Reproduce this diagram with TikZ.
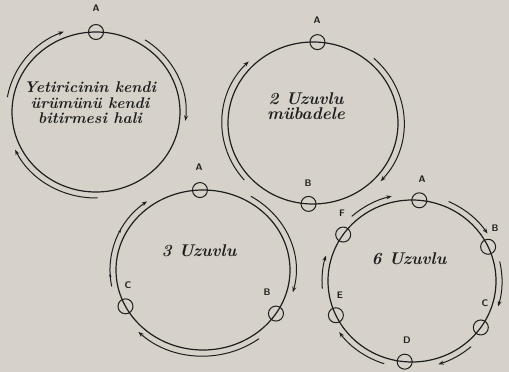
\documentclass[tikz,border=0pt]{standalone}
\usetikzlibrary{arrows.meta,calc,decorations.markings}
\definecolor{paper}{RGB}{214,210,202}
\definecolor{ink}{RGB}{30,30,30}
\newcommand\flowarc[5]{\draw[flow] ($(#1)+(#2:#4 and #5)$) arc[start angle=#2,end angle=#3,x radius=#4,y radius=#5];}
\begin{document}
\begin{tikzpicture}[x=1pt,y=1pt,
  ring/.style={draw=ink,line width=1.2pt},
  flow/.style={draw=ink,line width=1pt,-{Stealth[length=5.5pt,width=4pt]}},
  stn/.style={circle,draw=ink,line width=1pt,minimum size=15pt,inner sep=0pt},
  lbl/.style={font=\sffamily\bfseries\fontsize{9.5}{10}\selectfont,text=ink,inner sep=0pt},
  hand/.style={font=\bfseries\itshape\fontsize{17}{15.5}\selectfont,text=ink,align=center,inner sep=0pt},
  midarrows/.style={postaction={decorate},decoration={markings,
    mark=at position 0.13 with {\arrow{Stealth[length=3pt,width=2.5pt]}},
    mark=at position 0.6 with {\arrow{Stealth[length=3pt,width=2.5pt]}}}}]
\fill[paper] (0,0) rectangle (509,-372);
\useasboundingbox (0,0) rectangle (509,-372);

% ---- circle 1
\coordinate (c1) at (96,-112);
\draw[ring] (c1) ellipse [x radius=84pt, y radius=80pt];
\node[stn] (a1) at ($(c1)+(90:84pt and 80pt)$) {};
\node[lbl] (la1) at (96,-8) {A};
\flowarc{c1}{170}{111}{90pt}{86pt}
\flowarc{c1}{57}{-6}{90pt}{86pt}
\flowarc{c1}{-89}{-154}{90pt}{86pt}
\node[hand,font=\bfseries\itshape\fontsize{15.5}{15.5}\selectfont] (t1) at (90,-103) {Yetiricinin kendi\\ürümünü kendi\\bitirmesi hali};

% ---- circle 2
\coordinate (c2) at (313,-123);
\draw[ring] (c2) ellipse [x radius=85pt, y radius=81pt];
\node[stn] (a2) at ($(c2)+(87:85pt and 81pt)$) {};
\node[stn] (b2) at ($(c2)+(-93:85pt and 81pt)$) {};
\node[lbl] (la2) at (317,-20) {A};
\node[lbl] (lb2) at (308,-183) {B};
\flowarc{c2}{221}{135}{91pt}{87pt}
\flowarc{c2}{48}{-42}{91pt}{87pt}
\node[hand] (t2) at (306,-106) {2 Uzuvlu\\mübadele};

% ---- circle 3
\coordinate (c3) at (203,-270);
\draw[ring] (c3) ellipse [x radius=87pt, y radius=80pt];
\node[stn] (a3) at ($(c3)+(92:87pt and 80pt)$) {};
\node[stn] (b3) at ($(c3)+(-33:87pt and 80pt)$) {};
\node[stn] (cc3) at ($(c3)+(-153:87pt and 80pt)$) {};
\node[lbl] (la3) at (199,-167) {A};
\node[lbl] (lb3) at (267,-292) {B};
\node[lbl] (lc3) at (128,-285) {C};
\flowarc{c3}{59}{-15}{93pt}{86pt}
\flowarc{c3}{-53}{-134}{93pt}{86pt}
\draw[flow,midarrows] ($(c3)+(191:93pt and 86pt)$) arc[start angle=191,end angle=127,x radius=93pt,y radius=86pt];
\node[hand] (t3) at (199,-251) {3 Uzuvlu};

% ---- circle 4
\coordinate (c4) at (412,-281);
\draw[ring] (c4) ellipse [x radius=84pt, y radius=81pt];
\node[stn] (a4) at ($(c4)+(85:84pt and 81pt)$) {};
\node[stn] (b4) at ($(c4)+(25:84pt and 81pt)$) {};
\node[stn] (cc4) at ($(c4)+(-35:84pt and 81pt)$) {};
\node[stn] (d4) at ($(c4)+(-95:84pt and 81pt)$) {};
\node[stn] (e4) at ($(c4)+(-155:84pt and 81pt)$) {};
\node[stn] (f4) at ($(c4)+(145:84pt and 81pt)$) {};
\node[lbl] (la4) at (422,-179) {A};
\node[lbl] (lb4) at (495,-228) {B};
\node[lbl] (lc4) at (485,-303) {C};
\node[lbl] (ld4) at (407,-340) {D};
\node[lbl] (le4) at (340,-295) {E};
\node[lbl] (lf4) at (342,-213) {F};
\flowarc{c4}{66}{33}{90pt}{87pt}
\flowarc{c4}{13}{-17}{90pt}{87pt}
\flowarc{c4}{-49}{-73}{90pt}{87pt}
\flowarc{c4}{-108}{-144}{90pt}{87pt}
\flowarc{c4}{185}{163}{90pt}{87pt}
\flowarc{c4}{132}{103}{90pt}{87pt}
\node[hand] (t4) at (409,-259) {6 Uzuvlu};
\end{tikzpicture}
\end{document}
